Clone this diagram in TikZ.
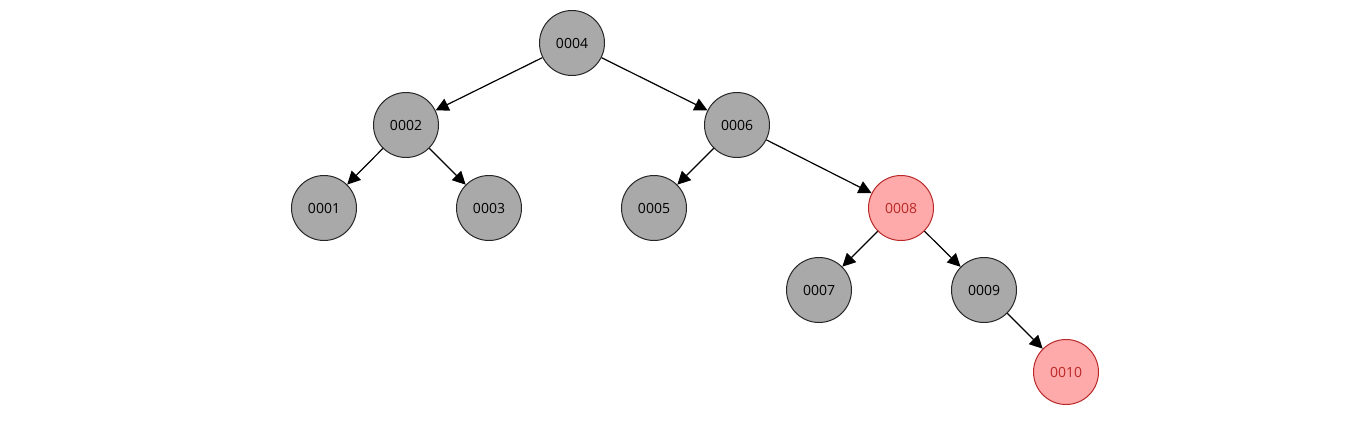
\documentclass[tikz,border=0pt]{standalone}
\usepackage{fontspec}
\setmainfont{Open Sans}
\usetikzlibrary{arrows.meta}

\definecolor{nodegray}{HTML}{A9A9A9}
\definecolor{redfill}{HTML}{FFAAAA}
\definecolor{redline}{HTML}{B82828}

\tikzset{
	keynode/.style={circle, draw=black!85, fill=nodegray, line width=1pt,
		minimum size=65pt, inner sep=0pt, font=\fontsize{14}{16}\selectfont},
	rednode/.style={keynode, draw=redline, fill=redfill, text=redline},
	edge/.style={line width=1.2pt, -{Triangle[length=13pt,width=13pt]}}
}

\begin{document}
\begin{tikzpicture}[x=1pt,y=-1pt]

	% Frame
	\useasboundingbox (0,0) rectangle (1367,429);

	% Nodes
	\node[keynode] (n4)  at (572,43)   {0004};
	\node[keynode] (n2)  at (406,125)  {0002};
	\node[keynode] (n6)  at (737,125)  {0006};
	\node[keynode] (n1)  at (324,208)  {0001};
	\node[keynode] (n3)  at (489,208)  {0003};
	\node[keynode] (n5)  at (654,208)  {0005};
	\node[rednode] (n8)  at (901,208)  {0008};
	\node[keynode] (n7)  at (819,290)  {0007};
	\node[keynode] (n9)  at (984,290)  {0009};
	\node[rednode] (n10) at (1066,372) {0010};

	% Edges
	\draw[edge] (n4) -- (n2);
	\draw[edge] (n4) -- (n6);
	\draw[edge] (n2) -- (n1);
	\draw[edge] (n2) -- (n3);
	\draw[edge] (n6) -- (n5);
	\draw[edge] (n6) -- (n8);
	\draw[edge] (n8) -- (n7);
	\draw[edge] (n8) -- (n9);
	\draw[edge] (n9) -- (n10);

\end{tikzpicture}
\end{document}
